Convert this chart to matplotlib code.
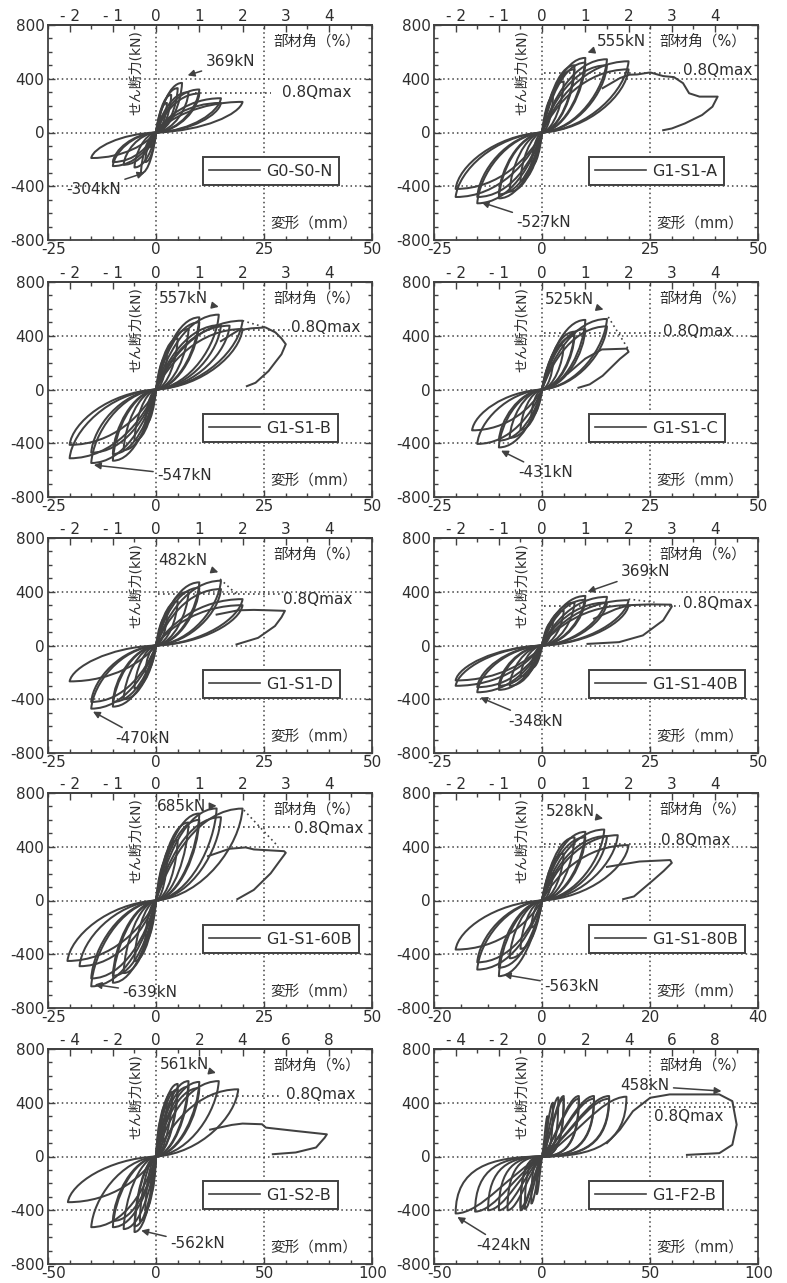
import matplotlib
matplotlib.use("Agg")
import matplotlib.pyplot as plt
import matplotlib.transforms as mtransforms
from matplotlib.path import Path
from matplotlib.patches import PathPatch
from matplotlib.lines import Line2D
from matplotlib.ticker import MultipleLocator, FuncFormatter

plt.rcParams['font.family'] = ['DejaVu Sans', 'Noto Sans CJK JP']
plt.rcParams['axes.unicode_minus'] = False

INK = '#414141'
TXT = '#2e2e2e'
LW = 1.45

# ---------------- data ----------------
names = ["G0-S0-N", "G1-S1-A", "G1-S1-B", "G1-S1-C", "G1-S1-D",
         "G1-S1-40B", "G1-S1-60B", "G1-S1-80B", "G1-S2-B", "G1-F2-B"]
qmax = [369, 555, 557, 525, 482, 369, 685, 528, 561, 458]
qmin = [-304, -527, -547, -431, -470, -348, -639, -563, -562, -424]

# cycle peaks (displacement mm, shear kN)
pos_g0s0n = [(1.2, 120), (2.5, 220), (3.5, 280), (5, 330), (6, 369), (7.5, 300),
             (10, 320), (10, 290), (15, 255), (15, 220), (20, 228)]
neg_g0s0n = [(-1.2, -110), (-2.5, -220), (-3.5, -304), (-5, -260), (-7.5, -240),
             (-10, -250), (-10, -220), (-15, -190)]

pos_g1s1a = [(2.5, 260), (5, 380), (7.5, 500), (7.5, 470), (10, 555), (10, 520),
             (15, 545), (15, 500), (20, 530), (20, 470)]
neg_g1s1a = [(-2.5, -250), (-5, -360), (-7.5, -440), (-10, -490), (-10, -460),
             (-15, -527), (-15, -480), (-20, -480), (-20, -420)]
tail_g1s1a = [(14, 330), (18, 405), (20.2, 430), (22, 432), (25, 447), (28, 420),
              (30.5, 412), (32.6, 367), (34, 292), (36.4, 267), (40.6, 267),
              (39.4, 192), (37, 130), (33, 67), (30, 30), (28, 17)]

pos_g1s1b = [(2.5, 250), (5, 380), (7.5, 450), (10, 537), (10, 500), (14.5, 557),
             (15, 480), (17, 475), (20, 512), (20, 450)]
neg_g1s1b = [(-2.5, -260), (-5, -380), (-7.5, -450), (-10, -530), (-10, -480),
             (-15, -547), (-15, -470), (-20, -512), (-20, -412)]
tail_g1s1b = [(15, 360), (19, 440), (22, 455), (25.3, 462), (27.6, 425), (29, 380),
              (30, 337), (29, 262), (27.5, 200), (26, 137), (23, 50), (21, 25)]
degr_g1s1b = [(20, 512), (25.3, 462)]

pos_g1s1c = [(2.5, 200), (5, 330), (7.5, 430), (7.5, 400), (10, 518), (10, 450),
             (15, 525), (15, 470)]
neg_g1s1c = [(-2.5, -200), (-5, -300), (-7.5, -360), (-10, -431), (-10, -380),
             (-15, -405), (-16.2, -304)]
tail_g1s1c = [(6, 120), (10, 230), (13.8, 298), (19.6, 304), (20, 280), (18, 228),
              (14, 102), (11, 38), (8.4, 13)]
degr_g1s1c = [(15.3, 540), (20, 297)]

pos_g1s1d = [(2.5, 220), (5, 330), (7.5, 400), (10, 470), (10, 430), (15, 482),
             (15, 420), (20, 345), (20, 300)]
neg_g1s1d = [(-2.5, -200), (-5, -320), (-7.5, -400), (-10, -455), (-10, -420),
             (-15, -470), (-15, -420), (-20, -267)]
tail_g1s1d = [(14, 230), (19, 262), (22.6, 265), (26, 262), (29.8, 258), (29, 210),
              (27.5, 145), (23.6, 57), (18.6, 8)]
degr_g1s1d = [(14.8, 495), (19, 370)]

pos_g1s1_40b = [(2.5, 180), (5, 260), (7.5, 320), (10, 369), (10, 340), (15, 362),
                (15, 320), (20, 337), (20, 300)]
neg_g1s1_40b = [(-2.5, -170), (-5, -230), (-7.5, -300), (-10, -330), (-10, -300),
                (-15, -348), (-15, -310), (-20, -300), (-20, -260)]
tail_g1s1_40b = [(12, 200), (17, 270), (20, 300), (25, 306), (29.8, 304), (30, 290),
                 (28, 187), (23.3, 75), (17.8, 25), (10.5, 12)]
degr_g1s1_40b = [(20, 345), (26, 322)]

pos_g1s1_60b = [(2.5, 300), (5, 450), (7.5, 580), (10, 647), (10, 600), (14, 685),
                (15, 620), (20, 684)]
neg_g1s1_60b = [(-2.5, -300), (-5, -450), (-7.5, -540), (-10, -612), (-10, -560),
                (-15, -639), (-15, -580), (-17.7, -489), (-20.5, -450)]
tail_g1s1_60b = [(12, 330), (17, 385), (20.7, 395), (22.6, 380), (29.6, 367),
                 (30, 355), (28.5, 290), (26.5, 202), (22.6, 79), (18.8, 10)]
degr_g1s1_60b = [(20.3, 673), (28, 410)]

pos_g1s1_80b = [(2, 200), (4, 350), (6, 470), (8, 511), (8, 470), (11.5, 528),
                (12, 480), (14, 486), (16, 412)]
neg_g1s1_80b = [(-2, -200), (-4, -360), (-6, -430), (-8, -563), (-8, -500),
                (-12, -514), (-12, -460), (-16, -365)]
tail_g1s1_80b = [(12, 250), (18, 290), (23.7, 301), (24, 280), (22.5, 220),
                 (20.6, 153), (17, 30), (15, 10)]

pos_g1s2b = [(2.5, 280), (5, 400), (7.5, 480), (10, 540), (10, 500), (15, 561),
             (15, 520), (20, 555), (20, 510), (29, 561), (38, 500)]
neg_g1s2b = [(-2.5, -280), (-5, -400), (-7.5, -480), (-10, -562), (-10, -520),
             (-15, -540), (-20, -526), (-20, -480), (-30, -526), (-40.8, -340)]
tail_g1s2b = [(25, 200), (35, 235), (40, 245), (49, 240), (50.8, 215), (64.6, 190),
              (79, 165), (78, 140), (74, 67), (64.6, 30), (54, 17)]

pos_g1f2b = [(2.5, 300), (5, 400), (7.5, 440), (10, 450), (10, 430), (17, 450),
             (17, 430), (24, 450), (24, 430), (31, 450), (31, 430), (39, 445)]
neg_g1f2b = [(-2.5, -280), (-5, -350), (-8, -390), (-10, -400), (-10, -380),
             (-16, -400), (-20, -400), (-25, -400), (-31, -410), (-40, -424)]
tail_g1f2b = [(30, 100), (36, 200), (42, 337), (50, 437), (59, 462), (82, 462),
              (88, 412), (90, 237), (88, 87), (82, 25), (67, 12)]

positives = [pos_g0s0n, pos_g1s1a, pos_g1s1b, pos_g1s1c, pos_g1s1d,
             pos_g1s1_40b, pos_g1s1_60b, pos_g1s1_80b, pos_g1s2b, pos_g1f2b]
negatives = [neg_g0s0n, neg_g1s1a, neg_g1s1b, neg_g1s1c, neg_g1s1d,
             neg_g1s1_40b, neg_g1s1_60b, neg_g1s1_80b, neg_g1s2b, neg_g1f2b]
tails = [None, tail_g1s1a, tail_g1s1b, tail_g1s1c, tail_g1s1d,
         tail_g1s1_40b, tail_g1s1_60b, tail_g1s1_80b, tail_g1s2b, tail_g1f2b]
degrs = [None, None, degr_g1s1b, degr_g1s1c, degr_g1s1d,
         degr_g1s1_40b, degr_g1s1_60b, None, None, None]

# ---------------- layout / style ----------------
xlims = [(-25, 50)] * 7 + [(-20, 40)] + [(-50, 100)] * 2
mm_per_pct = [10] * 7 + [8] + [10, 10]
pct_ticks = [[-2, -1, 0, 1, 2, 3, 4]] * 8 + [[-4, -2, 0, 2, 4, 6, 8]] * 2
xminor = [5] * 8 + [10, 10]
q08_span = [(9, 26.5), (0.5, 32), (0.5, 31), (0.5, 27.5), (0.5, 29),
            (0.5, 32), (0.5, 31.5), (0.3, 22), (0.5, 58), (47, 100)]
q08_text = [(37.2, 300), (40.5, 460), (39.3, 462), (36.1, 435), (37.3, 345),
            (40.5, 312), (39.9, 537), (28.4, 449), (76, 462), (67.7, 300)]
max_text = [(17.2, 525), (18.3, 680), (6.3, 675), (6.4, 668), (6.2, 632),
            (24, 550), (5.8, 696), (5.2, 660), (13, 684), (47.5, 525)]
max_tip = [(7.3, 425), (10.5, 595), (14.5, 615), (14.2, 595), (14.4, 545),
           (10.5, 400), (14, 705), (11.3, 610), (27.7, 622), (83, 487)]
min_text = [(-14.5, -425), (0.4, -670), (6.6, -637), (0.8, -620), (-3.2, -692),
            (-1.4, -562), (-1.4, -686), (5.5, -637), (19.2, -650), (-18, -662)]
min_tip = [(-2.7, -300), (-14, -520), (-14.4, -562), (-9.5, -455), (-14.6, -492),
           (-14.3, -387), (-14.2, -625), (-7.1, -551), (-6.9, -551), (-39.2, -450)]

SHAPE_DEFAULT = ((0.15, 0.45), (0.5, 1.0), (0.97, 0.6), (0.55, 0.05))
SHAPE_FLAT = ((0.35, 0.25), (0.7, 1.0), (1.0, 0.2), (0.6, 0.0))
shapes = [SHAPE_DEFAULT] * 9 + [SHAPE_FLAT]

col_left = [0.061, 0.5515]
ax_w = 0.412
ax_h = 215 / 1283
row_tops = [25, 282, 538, 793, 1049]

fig = plt.figure(figsize=(7.87, 12.83), dpi=100)
fig.patch.set_facecolor('white')


def draw_leaf(ax, xp, fp, shape):
    (a1, b1), (a2, b2), (u1, v1), (u2, v2) = shape
    verts = [(0, 0), (a1 * xp, b1 * fp), (a2 * xp, b2 * fp), (xp, fp),
             (u1 * xp, v1 * fp), (u2 * xp, v2 * fp), (0, 0)]
    codes = [Path.MOVETO] + [Path.CURVE4] * 6
    ax.add_patch(PathPatch(Path(verts, codes), fill=False, edgecolor=INK,
                           lw=LW, joinstyle='round', zorder=3))


def pct_fmt(v, _):
    v = int(round(v))
    return f"- {abs(v)}" if v < 0 else f"{v}"


FS = 11
DOT = (0, (1, 2))
for i, name in enumerate(names):
    r, c = divmod(i, 2)
    bottom = 1 - (row_tops[r] + 215) / 1283
    ax = fig.add_axes([col_left[c], bottom, ax_w, ax_h])
    x0, x1 = xlims[i]
    ax.set_xlim(x0, x1)
    ax.set_ylim(-800, 800)
    ax.set_xticks([x0, 0, x1 / 2, x1])
    ax.set_yticks([-800, -400, 0, 400, 800])
    ax.xaxis.set_minor_locator(MultipleLocator(xminor[i]))
    ax.yaxis.set_minor_locator(MultipleLocator(100))
    ax.tick_params(which='both', direction='in', top=False, right=True,
                   colors=INK, labelcolor=TXT, labelsize=FS)
    ax.tick_params(axis='x', pad=1.5)
    ax.tick_params(axis='y', pad=2.5)
    ax.tick_params(which='major', length=5, width=1)
    ax.tick_params(which='minor', length=3, width=1)
    for s in ax.spines.values():
        s.set_color(INK)
        s.set_linewidth(1.3)
    # first x tick label sits a little to the right, as in the source
    shift = mtransforms.ScaledTranslation(6 / 100, 0, fig.dpi_scale_trans)
    first = ax.get_xticklabels()[0]
    first.set_transform(first.get_transform() + shift)

    # grid
    for g in (0, x1 / 2):
        ax.axvline(g, color=INK, lw=1.1, ls=DOT, zorder=1)
    for g in (-400, 0, 400):
        ax.axhline(g, color=INK, lw=1.1, ls=DOT, zorder=1)

    # top axis: member angle (%)
    m = mm_per_pct[i]
    sec = ax.secondary_xaxis('top', functions=(lambda x, m=m: x / m,
                                               lambda p, m=m: p * m))
    sec.set_xticks(pct_ticks[i])
    step = pct_ticks[i][1] - pct_ticks[i][0]
    sec.xaxis.set_minor_locator(MultipleLocator(step / 2))
    sec.xaxis.set_major_formatter(FuncFormatter(pct_fmt))
    sec.tick_params(which='both', direction='in', colors=INK, labelcolor=TXT,
                    labelsize=FS, pad=1)
    sec.tick_params(which='major', length=5, width=1)
    sec.tick_params(which='minor', length=3, width=1)
    sec.spines['top'].set_color(INK)
    sec.spines['top'].set_linewidth(1.3)

    # hysteresis loops
    for xp, fp in positives[i]:
        draw_leaf(ax, xp, fp, shapes[i])
    for xp, fp in negatives[i]:
        draw_leaf(ax, xp, fp, shapes[i])
    if tails[i] is not None:
        tx, ty = zip(*tails[i])
        ax.plot(tx, ty, color=INK, lw=LW, zorder=3, solid_joinstyle='round')
    if degrs[i] is not None:
        dx, dy = zip(*degrs[i])
        ax.plot(dx, dy, color=INK, lw=1.2, ls=DOT, zorder=3)

    # 0.8 Qmax
    q08 = 0.8 * qmax[i]
    ax.plot(q08_span[i], [q08, q08], color=INK, lw=1.2, ls=DOT, zorder=2)
    ax.text(*q08_text[i], "0.8Qmax", ha='center', va='center', fontsize=FS,
            color=TXT, zorder=6)

    # peak annotations
    arrow = dict(arrowstyle='-|>', color=INK, lw=1.1, mutation_scale=10,
                 shrinkA=1, shrinkB=0)
    ax.annotate(f"{qmax[i]}kN", xy=max_tip[i], xytext=max_text[i], ha='center',
                va='center', fontsize=FS, color=TXT, arrowprops=arrow, zorder=6)
    ax.annotate(f"{qmin[i]}kN", xy=min_tip[i], xytext=min_text[i], ha='center',
                va='center', fontsize=FS, color=TXT, arrowprops=arrow, zorder=6)

    # inner labels
    ax.text(0.83, 0.92, "部材角（%）", transform=ax.transAxes, ha='center',
            va='center', fontsize=10.5, color=TXT, zorder=6)
    ax.text(0.82, 0.075, "変形（mm）", transform=ax.transAxes, ha='center',
            va='center', fontsize=10.5, color=TXT, zorder=6)
    ax.text(0.272, 0.975, "せん断力(kN)", transform=ax.transAxes, ha='center',
            va='top', rotation=90, fontsize=10, color=TXT, zorder=6)

    # legend box
    h = Line2D([], [], color=INK, lw=1.2)
    leg = ax.legend([h], [name], loc='lower left', bbox_to_anchor=(0.477, 0.256),
                    frameon=True, fancybox=False, framealpha=1, edgecolor=INK,
                    fontsize=11.5, handlelength=3.2, handletextpad=0.4,
                    borderpad=0.4, borderaxespad=0)
    leg.get_frame().set_linewidth(1.4)
    leg.set_zorder(5)
    for t in leg.get_texts():
        t.set_color(TXT)

fig.savefig("out.png", dpi=100, facecolor='white')
